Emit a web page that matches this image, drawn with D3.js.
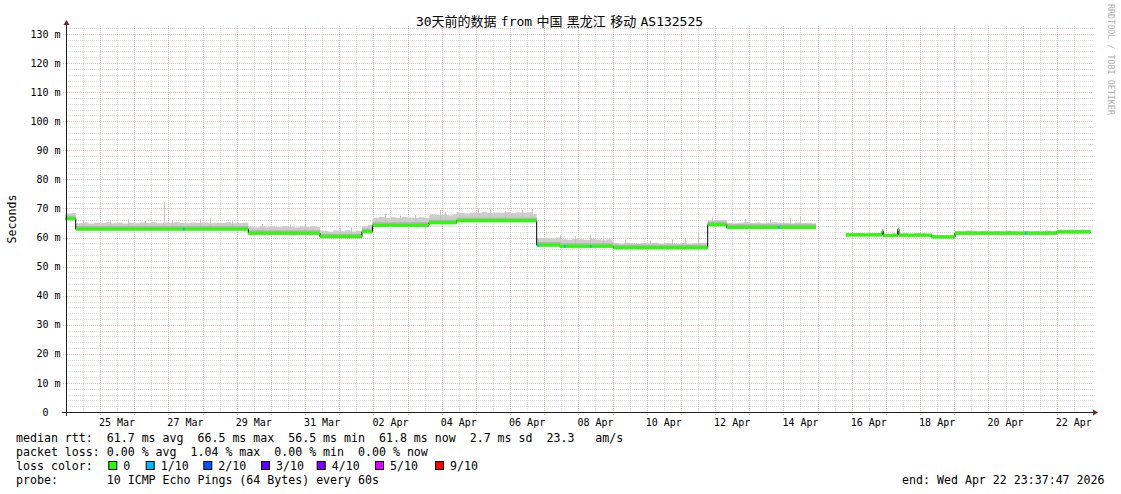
<!DOCTYPE html>
<html><head><meta charset="utf-8">
<script src="https://cdn.jsdelivr.net/npm/d3@7"></script>
<style>
body{margin:0;background:#fff;}
svg{display:block;}
text{font-family:"DejaVu Sans Mono","Noto Sans CJK SC",monospace;white-space:pre;fill:#000;}
</style></head><body>
<svg id="c" width="1121" height="494"></svg>
<script>
// ---------------- DATA ----------------
const titleText = "30天前的数据 from 中国 黑龙江 移动 AS132525";
const yTickValues = [0,10,20,30,40,50,60,70,80,90,100,110,120,130];
const yTickLabels = ["0","10 m","20 m","30 m","40 m","50 m","60 m","70 m","80 m","90 m","100 m","110 m","120 m","130 m"];
const xLabelDays = ["2026-03-25","2026-03-27","2026-03-29","2026-03-31","2026-04-02","2026-04-04","2026-04-06","2026-04-08","2026-04-10","2026-04-12","2026-04-14","2026-04-16","2026-04-18","2026-04-20","2026-04-22"];
const xLabelTexts = ["25 Mar","27 Mar","29 Mar","31 Mar","02 Apr","04 Apr","06 Apr","08 Apr","10 Apr","12 Apr","14 Apr","16 Apr","18 Apr","20 Apr","22 Apr"];
const rangeStart = "2026-03-23T23:37:47";
const rangeEnd   = "2026-04-22T23:37:47";

// median rtt (ms) as steps
const segStart  = ["2026-03-23T23:37:47","2026-03-24T06:56","2026-03-29T08:10","2026-03-31T10:30","2026-04-01T16:00","2026-04-01T23:24","2026-04-03T15:04","2026-04-04T10:32","2026-04-06T18:43","2026-04-07T11:03","2026-04-09T00:30","2026-04-11T18:50","2026-04-12T08:10","2026-04-15T19:55","2026-04-16T21:20","2026-04-16T22:10","2026-04-17T08:20","2026-04-17T09:10","2026-04-18T08:10","2026-04-19T00:30","2026-04-22T00:00"];
const segEnd    = ["2026-03-24T06:56","2026-03-29T08:10","2026-03-31T10:30","2026-04-01T16:00","2026-04-01T23:24","2026-04-03T15:04","2026-04-04T10:32","2026-04-06T18:43","2026-04-07T11:03","2026-04-09T00:30","2026-04-11T18:50","2026-04-12T08:10","2026-04-14T22:54","2026-04-16T21:20","2026-04-16T22:10","2026-04-17T08:20","2026-04-17T09:10","2026-04-18T08:10","2026-04-19T00:30","2026-04-22T00:00","2026-04-22T23:37:47"];
const segMedian = [66.5,62.9,61.5,60.3,62.0,64.2,65.1,65.8,57.4,57.0,56.5,64.4,63.5,60.9,62.2,60.7,62.8,60.8,60.2,61.5,61.9];

// smoke spread above median (ms), 4-hour bins starting 2026-03-24 00:00 (6 per day)
const smokeBinStart = "2026-03-24T00:00:00";
const smokeSpread = [
 1.8,1.9,2.0,2.3,1.9,2.2,  // Mar 24
 2.1,2.4,2.0,2.3,1.9,2.2,  // Mar 25
 2.0,2.3,2.1,2.4,2.0,2.2,  // Mar 26
 2.2,2.4,2.1,2.0,2.3,2.1,  // Mar 27
 2.3,2.0,2.2,2.1,2.4,2.0,  // Mar 28
 2.1,2.2,2.3,2.0,2.4,2.2,  // Mar 29
 2.3,2.1,2.4,2.2,2.0,2.3,  // Mar 30
 2.2,2.4,2.1,2.0,1.8,2.1,  // Mar 31
 1.9,2.2,1.8,2.0,1.9,2.4,  // Apr 1
 2.6,2.9,2.5,2.8,2.6,2.9,  // Apr 2
 2.7,2.5,2.8,2.6,2.9,2.7,  // Apr 3
 2.8,2.6,2.9,2.7,2.5,2.8,  // Apr 4
 2.7,2.9,2.6,2.8,2.7,2.9,  // Apr 5
 2.6,2.8,2.7,2.9,2.4,2.5,  // Apr 6
 2.5,2.3,2.6,2.4,2.2,2.5,  // Apr 7
 2.4,2.2,2.5,2.3,2.1,2.4,  // Apr 8
 1.6,1.4,1.7,1.5,1.3,1.6,  // Apr 9
 1.5,1.7,1.4,1.6,1.5,1.3,  // Apr 10
 1.6,1.4,1.5,1.7,1.6,1.5,  // Apr 11
 1.6,1.7,1.5,1.4,1.6,1.8,  // Apr 12
 1.5,1.7,1.4,1.6,1.8,1.5,  // Apr 13
 1.6,1.4,1.7,1.5,1.6,1.4,  // Apr 14
 null,null,null,null,0.6,0.6, // Apr 15
 0.6,0.7,0.5,0.6,0.7,0.6,  // Apr 16
 0.5,0.7,0.6,0.6,0.5,0.7,  // Apr 17
 0.6,0.5,0.7,0.6,0.6,0.5,  // Apr 18
 0.7,0.6,0.8,0.7,0.6,0.7,  // Apr 19
 0.6,0.7,0.6,0.8,0.7,0.6,  // Apr 20
 0.7,0.6,0.7,0.6,0.8,0.7,  // Apr 21
 0.8,0.7,0.8,0.7,0.8,0.7   // Apr 22
];

// individual smoke peaks (max rtt, ms)
const spikeTimes = ["2026-03-24T12:00","2026-03-25T07:00","2026-03-25T19:40","2026-03-26T07:36","2026-03-26T21:00","2026-03-27T02:40","2026-03-27T22:14","2026-03-28T05:15","2026-03-28T20:43","2026-03-29T17:47","2026-03-30T13:27","2026-03-31T00:00","2026-04-01T00:30","2026-04-01T08:20","2026-04-02T08:10","2026-04-02T18:40","2026-04-03T05:17","2026-04-03T22:48","2026-04-04T02:25","2026-04-05T01:30","2026-04-05T09:54","2026-04-05T20:27","2026-04-06T08:24","2026-04-06T15:25","2026-04-07T11:05","2026-04-07T21:36","2026-04-08T08:10","2026-04-08T17:18","2026-04-09T08:40","2026-04-10T02:20","2026-04-10T17:45","2026-04-11T02:53","2026-04-11T12:00","2026-04-11T21:50","2026-04-12T21:06","2026-04-13T14:38","2026-04-14T04:34","2026-04-14T11:40"];
const spikeValues = [65.9,65.6,66.2,65.8,72.3,66.0,66.4,66.7,65.9,64.6,64.5,64.8,63.2,63.5,68.0,67.6,67.8,69.4,69.0,70.0,69.7,69.2,69.5,69.8,60.8,60.5,61.0,60.4,59.3,59.0,59.4,59.8,62.0,66.9,66.4,66.2,66.8,67.4];

// samples with 1/10 packet loss
const lossTimes = ["2026-03-27T10:19","2026-04-06T19:00","2026-04-07T13:55","2026-04-08T08:10","2026-04-13T20:10","2026-04-21T01:40"];

const lossLabels = ["0","1/10","2/10","3/10","4/10","5/10","9/10"];
const lossColors = ["#26ff00","#00b8ff","#0059ff","#5e00ff","#7e00ff","#dd00ff","#ff0000"];

const statLines = [
 "median rtt:  61.7 ms avg  66.5 ms max  56.5 ms min  61.8 ms now  2.7 ms sd  23.3   am/s",
 "packet loss: 0.00 % avg  1.04 % max  0.00 % min  0.00 % now",
 "loss color:",
 "probe:       10 ICMP Echo Pings (64 Bytes) every 60s"
];
const endText = "end: Wed Apr 22 23:37:47 2026";
const yAxisTitle = "Seconds";
const sideText = "RRDTOOL / TOBI OETIKER";

// ---------------- LAYOUT ----------------
const legendBoxX = [108.3,145.7,203.3,261,316.7,375,435];
const P = {left:66, right:1093, top:26, bottom:412};
const T = s => new Date(s + (s.length===10 ? "T00:00:00Z" : "Z"));
const svg = d3.select("#c");

const x = d3.scaleUtc().domain([T(rangeStart), T(rangeEnd)]).range([65.3, 1090.4]);
const y = d3.scaleLinear().domain([0,130]).range([412,34]);

const segs = segStart.map((s,i)=>({a:T(s), b:T(segEnd[i]), v:segMedian[i]}));
const medianAt = t => { const s = segs.find(d => t >= d.a && t < d.b); return s ? s.v : null; };
const bin0 = T(smokeBinStart), binMs = 4*3600e3;
const spreadAt = t => { let i = Math.floor((t - bin0)/binMs); i = Math.max(0, Math.min(smokeSpread.length-1, i)); return smokeSpread[i]; };

// ---------------- GRID ----------------
const grid = svg.append("g");
const minorCol = "rgba(150,150,150,0.33)", majorCol = "rgba(230,90,90,0.42)";
const px = v => Math.round(v) + 0.5;
d3.range(2, 133, 2).filter(v => v % 10 !== 0).forEach(v => {
  grid.append("line").attr("x1",P.left).attr("x2",P.right).attr("y1",px(y(v))).attr("y2",px(y(v)))
    .attr("stroke",minorCol).attr("stroke-dasharray","1,1");
});
d3.utcHour.every(12).range(x.domain()[0], x.domain()[1]).forEach(t => {
  if (t.getUTCHours() === 0) return;
  grid.append("line").attr("x1",px(x(t))).attr("x2",px(x(t))).attr("y1",P.top).attr("y2",P.bottom)
    .attr("stroke",minorCol).attr("stroke-dasharray","1,1");
});
yTickValues.filter(v => v > 0).forEach(v => {
  grid.append("line").attr("x1",P.left-3).attr("x2",P.right).attr("y1",px(y(v))).attr("y2",px(y(v)))
    .attr("stroke",majorCol).attr("stroke-dasharray","1,1");
});
d3.utcDay.range(x.domain()[0], x.domain()[1]).forEach(t => {
  grid.append("line").attr("x1",px(x(t))).attr("x2",px(x(t))).attr("y1",P.top).attr("y2",P.bottom+3)
    .attr("stroke",majorCol).attr("stroke-dasharray","1,1");
});

// ---------------- SMOKE ----------------
let bps = new Set();
segs.forEach(s => { bps.add(+s.a); bps.add(+s.b); });
for (let t = +bin0; t < +x.domain()[1]; t += binMs) bps.add(t);
bps = Array.from(bps).filter(t => t >= +x.domain()[0] && t <= +x.domain()[1]).sort((a,b)=>a-b);
const pts = [];
for (let i = 0; i < bps.length-1; i++) {
  const a = bps[i], b = bps[i+1], mid = (a+b)/2;
  const m = medianAt(new Date(mid)), sp = spreadAt(new Date(mid));
  if (m === null || sp === null) { pts.push(null); continue; }
  pts.push({t:new Date(a), m, top:m+sp}); pts.push({t:new Date(b), m, top:m+sp});
}
const smokeArea = d3.area().defined(d => d !== null).x(d => x(d.t)).y0(d => y(d.m)+1).y1(d => y(d.top));
svg.append("path").datum(pts).attr("d", smokeArea).attr("fill","#cdcdcd");
const smokeG = svg.append("g");
spikeTimes.forEach((s,i) => {
  const t = T(s), m = medianAt(t); if (m === null) return;
  smokeG.append("line").attr("x1",px(x(t))).attr("x2",px(x(t))).attr("y1",y(m)).attr("y2",y(spikeValues[i]))
    .attr("stroke","#c4c4c4").attr("stroke-width",1);
});
const coreArea = d3.area().defined(d => d !== null).x(d => x(d.t)).y0(d => y(d.m)+1.5).y1(d => Math.max(y(d.top), y(d.m)-3));
svg.append("path").datum(pts).attr("d", coreArea).attr("fill","#b2b2b2");

// ---------------- MEDIAN ----------------
const linePts = [];
segs.forEach((s,i) => {
  if (i > 0 && +segs[i-1].b !== +s.a) linePts.push(null);
  linePts.push({t:s.a, v:s.v}); linePts.push({t:s.b, v:s.v});
});
svg.append("path").datum(linePts)
  .attr("d", d3.line().defined(d => d !== null).x(d => x(d.t)).y(d => y(d.v)))
  .attr("fill","none").attr("stroke","#000").attr("stroke-width",1);
svg.append("g").selectAll("rect").data(segs).join("rect")
  .attr("x", d => x(d.a)).attr("width", d => x(d.b) - x(d.a))
  .attr("y", d => y(d.v) - 1.5).attr("height", 3).attr("fill", lossColors[0]);
svg.append("g").selectAll("rect").data(lossTimes).join("rect")
  .attr("x", d => x(T(d))).attr("width", 1.5)
  .attr("y", d => y(medianAt(T(d))) - 1.5).attr("height", 3).attr("fill", lossColors[1]);

// ---------------- AXES ----------------
const axisCol = "#1f1f1f", arrowCol = "#7f1f1f";
svg.append("line").attr("x1",62).attr("x2",P.right+1).attr("y1",412.5).attr("y2",412.5).attr("stroke",axisCol);
svg.append("path").attr("d","M1093,409.5L1098,412.5L1093,415.5Z").attr("fill",arrowCol);
svg.append("line").attr("x1",66.5).attr("x2",66.5).attr("y1",416).attr("y2",24).attr("stroke",axisCol);
svg.append("path").attr("d","M63.5,25L66.5,20L69.5,25Z").attr("fill",arrowCol);

svg.append("g").selectAll("text").data(yTickValues).join("text")
  .attr("x", (d,i) => yTickLabels[i].indexOf(" ") < 0 ? 48.5 : 60.5)
  .attr("y", d => y(d) + 3.6).attr("text-anchor","end").attr("font-size","10px")
  .text((d,i) => yTickLabels[i]);
svg.append("g").selectAll("text").data(xLabelDays).join("text")
  .attr("x", d => x(new Date(+T(d) + 12*3600e3))).attr("y", 425.5)
  .attr("text-anchor","middle").attr("font-size","10px")
  .text((d,i) => xLabelTexts[i]);

svg.append("text").attr("x",559.5).attr("y",25.5).attr("text-anchor","middle").attr("font-size","13px")
  .style("word-spacing","-3.5px").text(titleText);
svg.append("text").attr("transform","translate(15.5,219) rotate(-90)").attr("text-anchor","middle")
  .attr("font-size","11.6px").text(yAxisTitle);
svg.append("text").attr("transform","translate(1108,4) rotate(90)").attr("font-size","8.4px")
  .style("fill","#b0b0b0").text(sideText);

// ---------------- LEGEND ----------------
statLines.forEach((s,i) => {
  svg.append("text").attr("x",16).attr("y",442.3 + i*14).attr("font-size","11.6px").text(s);
});
lossLabels.forEach((l,i) => {
  const bx = legendBoxX[i];
  svg.append("rect").attr("x",bx+0.5).attr("y",461.5).attr("width",8).attr("height",8)
    .attr("fill",lossColors[i]).attr("stroke","#000").attr("stroke-width",1);
  svg.append("text").attr("x",bx+15).attr("y",470.3).attr("font-size","11.6px").text(l);
});
svg.append("text").attr("x",1104.5).attr("y",484.3).attr("text-anchor","end").attr("font-size","11.6px").text(endText);
</script>
</body></html>
